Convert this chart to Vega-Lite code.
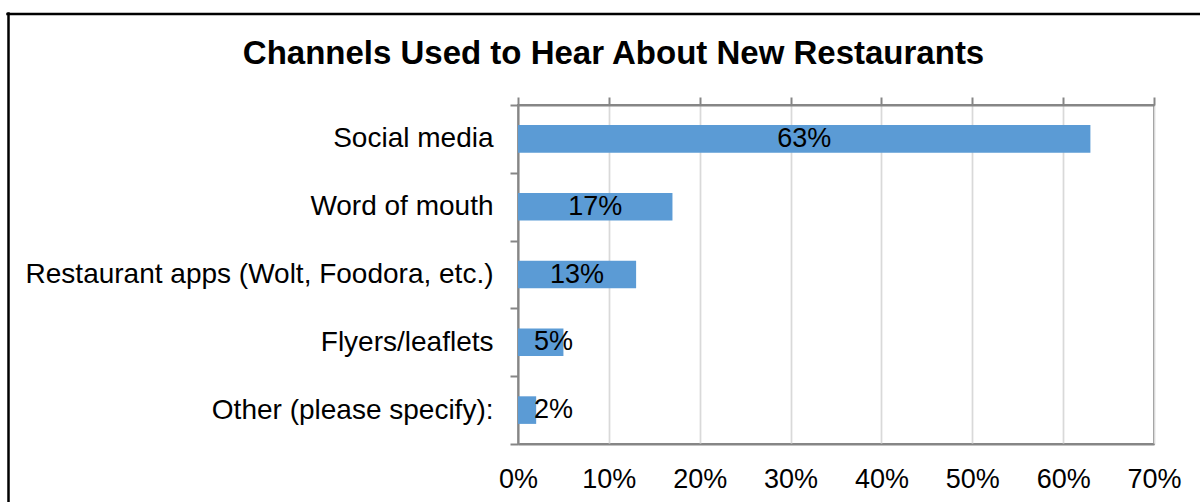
{
  "$schema": "https://vega.github.io/schema/vega-lite/v6.json",
  "width": 636,
  "height": 339,
  "autosize": {"type": "none"},
  "padding": {"left": 518, "top": 105, "right": 46, "bottom": 58},
  "background": "white",
  "title": {
    "text": "Channels Used to Hear About New Restaurants",
    "font": "Liberation Sans",
    "fontSize": 33,
    "fontWeight": "bold",
    "color": "#000000",
    "anchor": "middle",
    "frame": "group",
    "dx": -222.5,
    "baseline": "alphabetic",
    "offset": -83.5
  },
  "data": {
    "values": [
      {"channel": "Social media", "share": 0.63},
      {"channel": "Word of mouth", "share": 0.17},
      {"channel": "Restaurant apps (Wolt, Foodora, etc.)", "share": 0.13},
      {"channel": "Flyers/leaflets", "share": 0.05},
      {"channel": "Other (please specify):", "share": 0.02}
    ]
  },
  "layer": [
    {
      "layer": [
        {
          "mark": {"type": "bar", "color": "#5B9BD5", "height": {"band": 0.407}},
          "encoding": {
            "y": {
              "field": "channel",
              "type": "nominal",
              "sort": null,
              "scale": {
                "domain": ["Social media", "Word of mouth", "Restaurant apps (Wolt, Foodora, etc.)", "Flyers/leaflets", "Other (please specify):"],
                "paddingInner": 0,
                "paddingOuter": 0
              },
              "axis": {
                "orient": "left",
                "title": null,
                "tickBand": "extent",
                "ticks": true,
                "tickSize": 8,
                "labelFontSize": 28,
                "labelPadding": 17,
                "labelLimit": 700,
                "domain": true,
                "grid": false
              }
            },
            "x": {
              "field": "share",
              "type": "quantitative",
              "scale": {"domain": [0, 0.7], "nice": false},
              "axis": {
                "orient": "bottom",
                "title": null,
                "values": [0, 0.1, 0.2, 0.3, 0.4, 0.5, 0.6, 0.7],
                "format": ".0%",
                "ticks": false,
                "labelFontSize": 27,
                "labelPadding": 22,
                "labelFlush": false,
                "labelOverlap": false,
                "grid": true,
                "domain": true
              }
            }
          }
        },
        {
          "transform": [{"calculate": "max(datum.share / 2, 0.039)", "as": "labelPos"}],
          "mark": {"type": "text", "font": "Liberation Sans", "fontSize": 27, "color": "#000000", "align": "center", "baseline": "middle"},
          "encoding": {
            "y": {
              "field": "channel",
              "type": "nominal",
              "sort": null,
              "scale": {
                "domain": ["Social media", "Word of mouth", "Restaurant apps (Wolt, Foodora, etc.)", "Flyers/leaflets", "Other (please specify):"],
                "paddingInner": 0,
                "paddingOuter": 0
              }
            },
            "x": {
              "field": "labelPos",
              "type": "quantitative",
              "scale": {"domain": [0, 0.7], "nice": false},
              "axis": {
                "orient": "top",
                "title": null,
                "values": [0, 0.1, 0.2, 0.3, 0.4, 0.5, 0.6, 0.7],
                "labels": false,
                "ticks": true,
                "tickSize": 8,
                "grid": false,
                "domain": true
              }
            },
            "text": {"field": "share", "type": "quantitative", "format": ".0%"}
          }
        }
      ],
      "resolve": {"axis": {"x": "independent"}}
    },
    {
      "mark": {"type": "point", "opacity": 0},
      "encoding": {
        "x": {
          "field": "share",
          "type": "quantitative",
          "scale": {"domain": [0, 0.7], "range": [-511, 682], "nice": false},
          "axis": {"orient": "top", "offset": 91.5, "domainColor": "#000000", "domainWidth": 2.5, "domainCap": "square", "ticks": false, "labels": false, "grid": false, "title": null}
        },
        "y": {
          "field": "share",
          "type": "quantitative",
          "scale": {"domain": [0, 1], "range": [-92, 397], "nice": false},
          "axis": {"orient": "left", "offset": 510, "domainColor": "#000000", "domainWidth": 2.5, "domainCap": "square", "ticks": false, "labels": false, "grid": false, "title": null}
        }
      }
    }
  ],
  "resolve": {
    "scale": {"x": "independent", "y": "independent"},
    "axis": {"x": "independent", "y": "independent"}
  },
  "config": {
    "font": "Liberation Sans",
    "view": {"stroke": "#868686", "strokeWidth": 2},
    "axis": {
      "labelFont": "Liberation Sans",
      "labelColor": "#000000",
      "domainColor": "#868686",
      "domainWidth": 2,
      "tickColor": "#868686",
      "tickWidth": 2,
      "gridColor": "#D9D9D9",
      "gridWidth": 1.75
    }
  }
}
